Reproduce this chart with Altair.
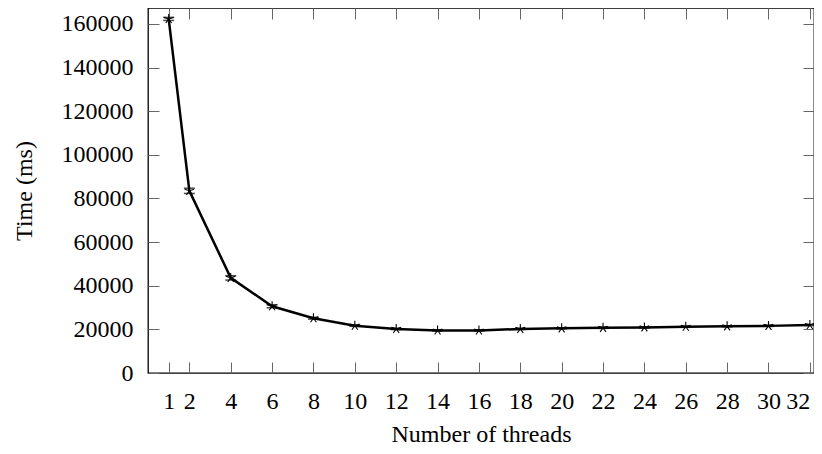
import altair as alt
import pandas as pd

threads = [1, 2, 4, 6, 8, 10, 12, 14, 16, 18, 20, 22, 24, 26, 28, 30, 32]
time_ms = [162300, 83500, 43600, 30600, 25100, 21700, 20200, 19500, 19500,
           20200, 20500, 20700, 20900, 21200, 21400, 21600, 22000]
err_ms = [700, 1200, 1000, 700, 400, 300, 300, 250, 250,
          250, 250, 250, 250, 250, 250, 250, 250]
y_ticks = [0, 20000, 40000, 60000, 80000, 100000, 120000, 140000, 160000]

df = pd.DataFrame({
    "threads": threads,
    "time": time_ms,
    "lo": [t - e for t, e in zip(time_ms, err_ms)],
    "hi": [t + e for t, e in zip(time_ms, err_ms)],
})

FONT = "Liberation Serif"
FS = 24
TICK = 11

xscale = alt.Scale(domain=[0, 32.2], nice=False, zero=False)
yscale = alt.Scale(domain=[0, 167300], nice=False, zero=False)

x_axis = alt.Axis(values=threads, offset=-TICK, tickSize=TICK, labelPadding=16,
                  labelFlush=5, labelFlushOffset=0,
                  title="Number of threads", titlePadding=9)
y_axis = alt.Axis(values=y_ticks, offset=-TICK, tickSize=TICK, labelPadding=15,
                  format="d", title="Time (ms)", titlePadding=25)


def X():
    return alt.X("threads:Q", scale=xscale, axis=x_axis)


def Y(field):
    return alt.Y(f"{field}:Q", scale=yscale, axis=y_axis)


base = alt.Chart(df)

line = base.mark_line(color="black", strokeWidth=2.5).encode(x=X(), y=Y("time"))
bars = base.mark_rule(color="black", strokeWidth=1.2).encode(x=X(), y=Y("lo"), y2="hi:Q")
cap_lo = base.mark_tick(color="black", thickness=1.5, size=11, orient="horizontal").encode(x=X(), y=Y("lo"))
cap_hi = base.mark_tick(color="black", thickness=1.5, size=11, orient="horizontal").encode(x=X(), y=Y("hi"))

star_path = ("M0,0L0,-1M0,0L0.951,-0.309M0,0L0.588,0.809"
             "M0,0L-0.588,0.809M0,0L-0.951,-0.309")
pts = base.mark_point(shape=star_path, size=100, filled=False, color="black",
                      strokeWidth=1.1, opacity=1).encode(x=X(), y=Y("time"))

main = alt.layer(line, bars, cap_lo, cap_hi, pts)

mirror = base.mark_point(opacity=0).encode(
    x=alt.X("threads:Q", scale=xscale,
            axis=alt.Axis(orient="top", values=threads, labels=False, title="",
                          offset=-TICK, tickSize=TICK)),
    y=alt.Y("time:Q", scale=yscale,
            axis=alt.Axis(orient="right", values=y_ticks, labels=False, title="",
                          offset=-TICK, tickSize=TICK)),
)

chart = alt.layer(main, mirror).resolve_scale(x="independent", y="independent").properties(
    width=666, height=365,
    autosize=alt.AutoSizeParams(type="none"),
    padding={"left": 140, "top": 0, "right": 0, "bottom": 73},
).configure_view(
    stroke="black", strokeWidth=1.3
).configure_axis(
    domain=False, grid=False, tickColor="#666666", tickWidth=1,
    labelFont=FONT, labelFontSize=FS, labelColor="black",
    titleFont=FONT, titleFontSize=FS, titleColor="black", titleFontWeight="normal",
)

chart.save("out.html", embed_options={"renderer": "svg", "actions": False})
